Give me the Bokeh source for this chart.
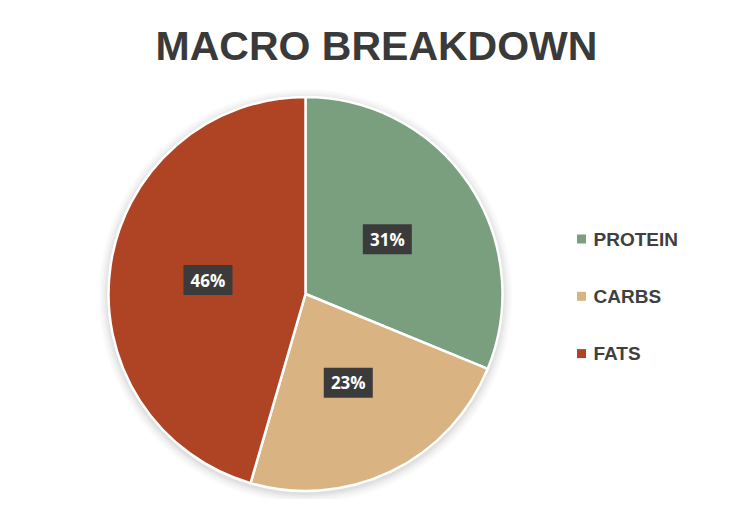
import math
from bokeh.plotting import figure
from bokeh.models import Range1d, Label, ColumnDataSource
from bokeh.core.properties import value
from bokeh.embed import file_html
from bokeh.resources import INLINE

# ---- data ----
categories = ["PROTEIN", "CARBS", "FATS"]
shares = [31.2, 23.3, 45.5]
colors = ["#7A9F7F", "#D9B382", "#AE4424"]
title_text = "MACRO BREAKDOWN"

# ---- layout ----
W, H = 737, 499
CX, CY, R = 305, 205.5, 197

total = sum(shares)
starts, ends, mids, labels = [], [], [], []
acc = 0.0
for v in shares:
    a0 = math.pi / 2 - 2 * math.pi * acc / total
    acc += v
    a1 = math.pi / 2 - 2 * math.pi * acc / total
    starts.append(a0)
    ends.append(a1)
    mids.append((a0 + a1) / 2)
    labels.append(f"{round(v / total * 100)}%")

src = ColumnDataSource(dict(
    cat=categories, val=shares, color=colors, start=starts, end=ends,
    lx=[CX + 0.5 * R * math.cos(m) for m in mids],
    ly=[CY + 0.5 * R * math.sin(m) for m in mids],
    label=labels,
))

p = figure(width=W, height=H, output_backend="svg", toolbar_location=None,
           x_range=Range1d(0, W), y_range=Range1d(0, H), min_border=0)
p.axis.visible = False
p.grid.visible = False
p.outline_line_color = None
p.background_fill_color = "white"
p.border_fill_color = "white"

# soft shadow
for i, a in enumerate([0.035, 0.03, 0.025, 0.02, 0.015]):
    p.circle(x=[CX], y=[CY - 2], radius=R + 2 + 2 * i, fill_color="#000000",
             fill_alpha=a, line_color=None)

p.wedge(x=CX, y=CY, radius=R, start_angle="start", end_angle="end",
        direction="clock", fill_color="color", line_color="white",
        line_width=2.5, source=src)

# data labels
p.rect(x="lx", y="ly", width=49, height=30, width_units="screen",
       height_units="screen", fill_color="#3B3B3B", line_color=None, source=src)
p.text(x="lx", y="ly", text="label", text_color="white",
       text_font=value("Open Sans"), text_font_style="bold",
       text_font_size="17px", text_align="center", text_baseline="middle",
       source=src)

# legend
LX, LY0, LDY = 581, 260.5, 57.3
leg = ColumnDataSource(dict(
    x=[LX] * len(categories),
    y=[LY0 - i * LDY for i in range(len(categories))],
    tx=[LX + 12] * len(categories),
    cat=categories, color=colors,
))
p.scatter(x="x", y="y", marker="square", size=9, fill_color="color",
          line_color=None, source=leg)
p.text(x="tx", y="y", text="cat", text_color="#404040",
       text_font=value("Liberation Sans"), text_font_style="bold",
       text_font_size="19px", text_align="left", text_baseline="middle",
       source=leg)

# title
p.add_layout(Label(x=376, y=H - 45, text=title_text, text_align="center",
                   text_baseline="middle", text_font="Liberation Sans",
                   text_font_style="bold", text_font_size="41px",
                   text_color="#3A3A3A"))

open("out.html", "w").write(file_html(p, INLINE))
